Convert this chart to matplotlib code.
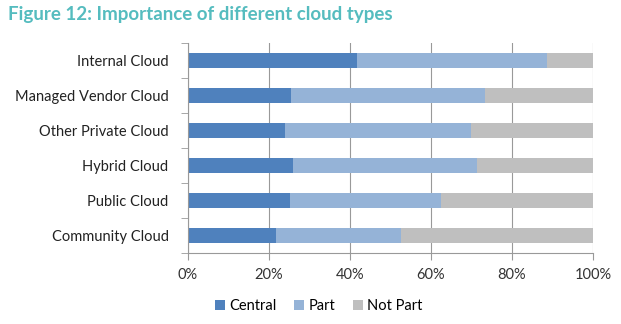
import matplotlib.pyplot as plt
import numpy as np

plt.rcParams['font.family'] = ['Lato', 'DejaVu Sans']

categories = ['Internal Cloud', 'Managed Vendor Cloud', 'Other Private Cloud',
              'Hybrid Cloud', 'Public Cloud', 'Community Cloud']
central = [41.7, 25.4, 24.0, 26.0, 25.1, 21.7]
part = [46.9, 47.9, 45.9, 45.5, 37.4, 30.9]
not_part = [100 - c - p for c, p in zip(central, part)]
xticks = [0, 20, 40, 60, 80, 100]
xtick_labels = ['0%', '20%', '40%', '60%', '80%', '100%']

fig = plt.figure(figsize=(6.21, 3.24), dpi=100)
ax = fig.add_axes([0.3027, 0.219, 0.652, 0.648])

y = np.arange(len(categories))[::-1]
h = 0.42
ax.barh(y, central, height=h, color='#4f81bd', label='Central')
ax.barh(y, part, left=central, height=h, color='#95b3d7', label='Part')
ax.barh(y, not_part, left=np.add(central, part), height=h, color='#bfbfbf', label='Not Part')

ax.set_xlim(0, 100)
ax.set_ylim(-0.5, len(categories) - 0.5)
ax.set_xticks(xticks)
ax.set_xticklabels(xtick_labels, fontsize=10.5, color='#333333')
ax.set_yticks(y)
ax.set_yticklabels(categories, fontsize=10.5, color='#222222')
ax.set_yticks(np.arange(len(categories) + 1) - 0.5, minor=True)
ax.tick_params(axis='y', which='major', length=0, pad=14)
ax.tick_params(axis='y', which='minor', length=5, color='#999999', direction='out')
ax.tick_params(axis='x', length=5, color='#999999', direction='out', pad=6)
ax.grid(axis='x', color='#999999', linewidth=0.8)
ax.set_axisbelow(True)
for s in ['top', 'right']:
    ax.spines[s].set_visible(False)
for s in ['left', 'bottom']:
    ax.spines[s].set_color('#999999')

fig.text(0.013, 0.955, 'Figure 12: Importance of different cloud types',
         fontsize=13.5, fontweight='bold', color='#55bcbf', va='center')

fig.legend(loc='center', bbox_to_anchor=(0.513, 0.055), ncol=3, frameon=False,
           fontsize=10.5, handlelength=0.7, handleheight=0.7, handletextpad=0.3,
           columnspacing=1.2)

fig.savefig('out.png', dpi=100)
